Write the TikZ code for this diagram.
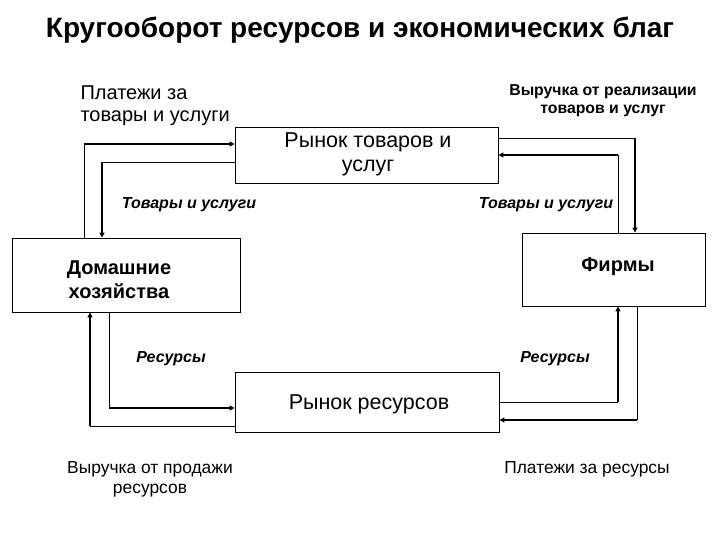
\documentclass[tikz,border=0pt]{standalone}
\usepackage{fontspec}
\setmainfont{Liberation Sans}
\usetikzlibrary{arrows.meta}
\begin{document}
\begin{tikzpicture}[x=1pt,y=-1pt,
  box/.style={draw,line width=0.9pt,inner sep=0pt},
  thin/.style={line width=0.9pt},
  thk/.style={line width=1.8pt,-{Triangle[length=5pt,width=5pt]}},
  lbl/.style={font=\fontsize{17.4}{20}\selectfont,align=center},
  itl/.style={font=\fontsize{16}{18}\selectfont\bfseries\itshape}]
\useasboundingbox (0,0) rectangle (720,540);
\node[font=\fontsize{28}{32}\selectfont\bfseries] (title) at (360,30) {Кругооборот ресурсов и экономических благ};
\node[box,minimum width=263pt,minimum height=56pt] (top) at (366.5,155) {};
\node[font=\fontsize{21.5}{24}\selectfont,align=center] (topt) at (368,154) {Рынок товаров и\\услуг};
\node[box,minimum width=228pt,minimum height=74pt] (hh) at (126,275) {};
\node[font=\fontsize{20}{24}\selectfont\bfseries,align=center] (hht) at (119,280) {Домашние\\хозяйства};
\node[box,minimum width=183pt,minimum height=73pt] (fm) at (613.5,269.5) {};
\node[font=\fontsize{20}{24}\selectfont\bfseries] (fmt) at (618,267) {Фирмы};
\node[box,minimum width=264pt,minimum height=60pt] (bot) at (367,402) {};
\node[font=\fontsize{21.5}{24}\selectfont] (bott) at (369,404) {Рынок ресурсов};
\node[font=\fontsize{20}{22}\selectfont,align=left,anchor=north west] (l1) at (77,82) {Платежи за\\товары и услуги};
\node[font=\fontsize{15.8}{18}\selectfont\bfseries,align=center] (l2) at (603,101) {Выручка от реализации\\товаров и услуг};
\node[itl] (g1) at (189,205) {Товары и услуги};
\node[itl] (g2) at (546,205) {Товары и услуги};
\node[itl] (r1) at (171,359) {Ресурсы};
\node[itl] (r2) at (555,359) {Ресурсы};
\node[lbl] (l3) at (150,479) {Выручка от продажи\\ресурсов};
\node[lbl] (l4) at (587,469) {Платежи за ресурсы};
% top-left
\coordinate (a1) at (84,144);
\draw[thin] (84,238) -- (a1);
\draw[thk] (a1) -- (top.west |- a1);
\coordinate (a2) at (102,162);
\draw[thin] (top.west |- a2) -- (a2);
\draw[thk] (a2) -- (a2 |- hh.north);
% top-right
\coordinate (b1) at (635,138);
\draw[thin] (top.east |- b1) -- (b1);
\draw[thk] (b1) -- (b1 |- fm.north);
\coordinate (b2) at (618,155);
\draw[thin] (b2 |- fm.north) -- (b2);
\draw[thk] (b2) -- (top.east |- b2);
% bottom-left
\coordinate (c1) at (90,426);
\draw[thin] (bot.west |- c1) -- (c1);
\draw[thk] (c1) -- (c1 |- hh.south);
\coordinate (c2) at (109,408);
\draw[thin] (c2 |- hh.south) -- (c2);
\draw[thk] (c2) -- (bot.west |- c2);
% bottom-right
\coordinate (d1) at (618,402);
\draw[thin] (bot.east |- d1) -- (d1);
\draw[thk] (d1) -- (d1 |- fm.south);
\coordinate (d2) at (637,420);
\draw[thin] (d2 |- fm.south) -- (d2);
\draw[thk] (d2) -- (bot.east |- d2);
\end{tikzpicture}
\end{document}
